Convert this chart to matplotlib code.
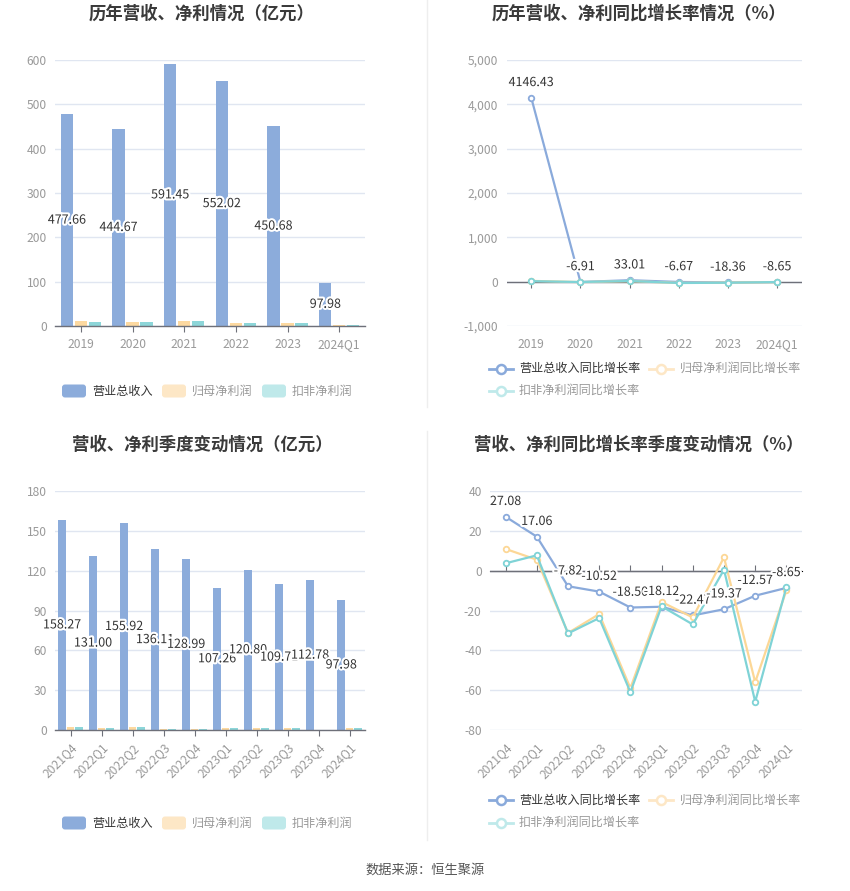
import matplotlib
matplotlib.use("Agg")
import matplotlib.pyplot as plt
import matplotlib.patheffects as pe
from matplotlib.patches import FancyBboxPatch
from matplotlib.ticker import FuncFormatter
import numpy as np

plt.rcParams['font.family'] = ['Noto Sans CJK SC', 'DejaVu Sans']

# ---------------- data ----------------
years = ["2019", "2020", "2021", "2022", "2023", "2024Q1"]
annual_rev = [477.66, 444.67, 591.45, 552.02, 450.68, 97.98]
annual_net = [11.3, 9.8, 10.5, 6.8, 6.0, 1.6]
annual_ded = [9.0, 9.0, 10.5, 6.8, 6.0, 1.4]

annual_rev_g = [4146.43, -6.91, 33.01, -6.67, -18.36, -8.65]
annual_net_g = [18.0, -10.0, 12.0, -28.0, -22.0, -9.9]
annual_ded_g = [12.0, -8.0, 15.0, -30.0, -24.0, -8.2]

quarters = ["2021Q4", "2022Q1", "2022Q2", "2022Q3", "2022Q4",
            "2023Q1", "2023Q2", "2023Q3", "2023Q4", "2024Q1"]
q_rev = [158.27, 131.00, 155.92, 136.11, 128.99, 107.26, 120.80, 109.71, 112.78, 97.98]
q_net = [2.26, 1.75, 2.25, 1.0, 0.5, 1.5, 1.5, 1.25, 0.2, 1.6]
q_ded = [2.26, 1.75, 2.25, 1.0, 0.4, 1.5, 1.5, 1.2, 0.15, 1.4]

q_rev_g = [27.08, 17.06, -7.82, -10.52, -18.50, -18.12, -22.47, -19.37, -12.57, -8.65]
q_net_g = [10.9, 5.5, -31.3, -21.8, -59.0, -15.7, -23.5, 6.7, -56.0, -9.9]
q_ded_g = [3.7, 7.7, -31.5, -23.8, -61.0, -17.9, -27.0, 0.5, -65.8, -8.2]

bar_series = ["营业总收入", "归母净利润", "扣非净利润"]
line_series = ["营业总收入同比增长率", "归母净利润同比增长率", "扣非净利润同比增长率"]

# ---------------- style ----------------
W, H = 850, 891
C_BLUE = "#8cacdb"
C_ORANGE = "#fdd9a0"
C_TEAL = "#8dd6d9"
L_BLUE = "#8aaadb"
L_ORANGE = "#fcd796"
L_TEAL = "#7fd3d6"
LEG_ORANGE = "#fde7c6"
LEG_TEAL = "#bfe9ea"
GRID = "#e0e6f1"
AXIS = "#6e7079"
TICK = "#9a9a9a"
TITLE = "#3a3a3a"

fig = plt.figure(figsize=(W / 100, H / 100), dpi=100)
fig.patch.set_facecolor("white")


def rect(l, t, r, b):
    return [l / W, 1 - b / H, (r - l) / W, (b - t) / H]


def base_axes(r, ylim, yticks, fmt=None):
    ax = fig.add_axes(rect(*r))
    ax.set_ylim(*ylim)
    ax.set_yticks(yticks)
    for s in ax.spines.values():
        s.set_visible(False)
    ax.grid(axis="y", color=GRID, linewidth=1)
    ax.set_axisbelow(True)
    ax.tick_params(axis="y", length=0, labelsize=8.7, labelcolor=TICK, pad=6)
    if fmt:
        ax.yaxis.set_major_formatter(FuncFormatter(fmt))
    return ax


label_fx = [pe.withStroke(linewidth=3, foreground="white")]


def bar_chart(r, cats, rev, net, ded, ylim, yticks, rotate):
    ax = base_axes(r, ylim, yticks)
    x = np.arange(len(cats))
    w = 0.235
    off = 0.27
    ax.bar(x - off, rev, w, color=C_BLUE, zorder=2)
    ax.bar(x, net, w, color=C_ORANGE, zorder=2)
    ax.bar(x + off, ded, w, color=C_TEAL, zorder=2)
    ax.set_xlim(-0.5, len(cats) - 0.5)
    ax.spines["bottom"].set_visible(True)
    ax.spines["bottom"].set_color(AXIS)
    ax.spines["bottom"].set_linewidth(1)
    ax.set_xticks(x)
    if rotate:
        ax.set_xticklabels(cats, rotation=45, ha="right", va="top",
                           rotation_mode="anchor")
        ax.tick_params(axis="x", length=4, color=AXIS, labelsize=8.7,
                       labelcolor=TICK, pad=4)
    else:
        ax.set_xticklabels(cats)
        ax.tick_params(axis="x", length=4, color=AXIS, labelsize=8.7,
                       labelcolor=TICK, pad=5)
    for xi, v in zip(x, rev):
        ax.text(xi - off, v / 2, f"{v:.2f}", ha="center", va="center",
                fontsize=9, color="#333333", path_effects=label_fx, zorder=5)
    return ax


def line_chart(r, cats, rev, net, ded, ylim, yticks, fmt, rotate):
    ax = base_axes(r, ylim, yticks, fmt)
    x = np.arange(len(cats))
    ax.set_xlim(-0.5, len(cats) - 0.5)
    kw = dict(marker="o", markersize=4, markerfacecolor="white",
              markeredgewidth=1.3, linewidth=1.6)
    ax.plot(x, rev, color=L_BLUE, markeredgecolor=L_BLUE, zorder=3, **kw)
    ax.plot(x, net, color=L_ORANGE, markeredgecolor=L_ORANGE, zorder=4, **kw)
    ax.plot(x, ded, color=L_TEAL, markeredgecolor=L_TEAL, zorder=5, **kw)
    ax.axhline(0, color=AXIS, linewidth=1, zorder=2)
    ax.set_xticks(x)
    if rotate:
        ax.set_xticklabels(cats, rotation=45, ha="right", va="top",
                           rotation_mode="anchor")
        ax.tick_params(axis="x", length=0, labelsize=8.7, labelcolor=TICK, pad=8)
    else:
        ax.set_xticklabels(cats)
        ax.tick_params(axis="x", length=0, labelsize=8.7, labelcolor=TICK, pad=9)
    zero_frac = (0 - ylim[0]) / (ylim[1] - ylim[0])
    sec = ax.secondary_xaxis(zero_frac)
    sec.set_xticks(x)
    sec.set_xticklabels([])
    sec.spines["bottom"].set_visible(False)
    sec.tick_params(axis="x", length=4, color=AXIS, direction="out")
    for xi, v in zip(x, rev):
        ax.annotate(f"{v:.2f}", (xi, v), xytext=(0, 11), textcoords="offset points",
                    ha="center", va="center", fontsize=9, color="#333333",
                    path_effects=label_fx, zorder=6)
    return ax


bar_chart((55, 60, 365, 326), years, annual_rev, annual_net, annual_ded,
          (0, 600), np.arange(0, 601, 100), rotate=False)
line_chart((506.7, 60, 801.7, 326), years, annual_rev_g, annual_net_g, annual_ded_g,
           (-1000, 5000), np.arange(-1000, 5001, 1000),
           lambda v, p: f"{int(v):,}", rotate=False)
bar_chart((55, 491, 365, 730), quarters, q_rev, q_net, q_ded,
          (0, 180), np.arange(0, 181, 30), rotate=True)
line_chart((490, 491, 802, 730), quarters, q_rev_g, q_net_g, q_ded_g,
           (-80, 40), np.arange(-80, 41, 20),
           lambda v, p: f"{int(v)}", rotate=True)

# ---------------- overlay (titles, legends, separators, footer) ----------------
ov = fig.add_axes([0, 0, 1, 1], zorder=10)
ov.set_xlim(0, W)
ov.set_ylim(H, 0)
ov.axis("off")
ov.patch.set_alpha(0)

tkw = dict(fontsize=12.5, fontweight="bold", color=TITLE, ha="center", va="center")
ov.text(202, 14, "历年营收、净利情况（亿元）", **tkw)
ov.text(638.7, 14, "历年营收、净利同比增长率情况（%）", **tkw)
ov.text(202, 445, "营收、净利季度变动情况（亿元）", **tkw)
ov.text(638.7, 445, "营收、净利同比增长率季度变动情况（%）", **tkw)

ov.plot([427, 427], [0, 407], color="#eeeeee", linewidth=1)
ov.plot([427, 427], [431, 840], color="#eeeeee", linewidth=1)


def bar_legend(yc):
    cols = [C_BLUE, LEG_ORANGE, LEG_TEAL]
    tcols = ["#333333", "#999999", "#999999"]
    for i, (name, c, tc) in enumerate(zip(bar_series, cols, tcols)):
        x0 = 62 + 100 * i
        ov.add_patch(FancyBboxPatch((x0, yc - 6.5), 24, 13,
                                    boxstyle="round,pad=0,rounding_size=3",
                                    facecolor=c, edgecolor="none"))
        ov.text(x0 + 30, yc, name, fontsize=8.7, color=tc, ha="left", va="center")


def line_legend(y1, y2):
    cols = [L_BLUE, LEG_ORANGE, LEG_TEAL]
    tcols = ["#333333", "#999999", "#999999"]
    pos = [(489, y1), (649.5, y1), (489, y2)]
    for name, c, tc, (x0, yc) in zip(line_series, cols, tcols, pos):
        ov.plot([x0, x0 + 24], [yc, yc], color=c, linewidth=2)
        ov.plot([x0 + 12], [yc], marker="o", markersize=6.5, markerfacecolor="white",
                markeredgecolor=c, markeredgewidth=1.8)
        ov.text(x0 + 30, yc, name, fontsize=8.7, color=tc, ha="left", va="center")


bar_legend(391)
bar_legend(823)
line_legend(368.5, 390.5)
line_legend(800, 822.5)

ov.text(425, 870, "数据来源：恒生聚源", fontsize=9.5, color="#555555",
        ha="center", va="center")

fig.savefig("out.png", dpi=100, facecolor="white")
